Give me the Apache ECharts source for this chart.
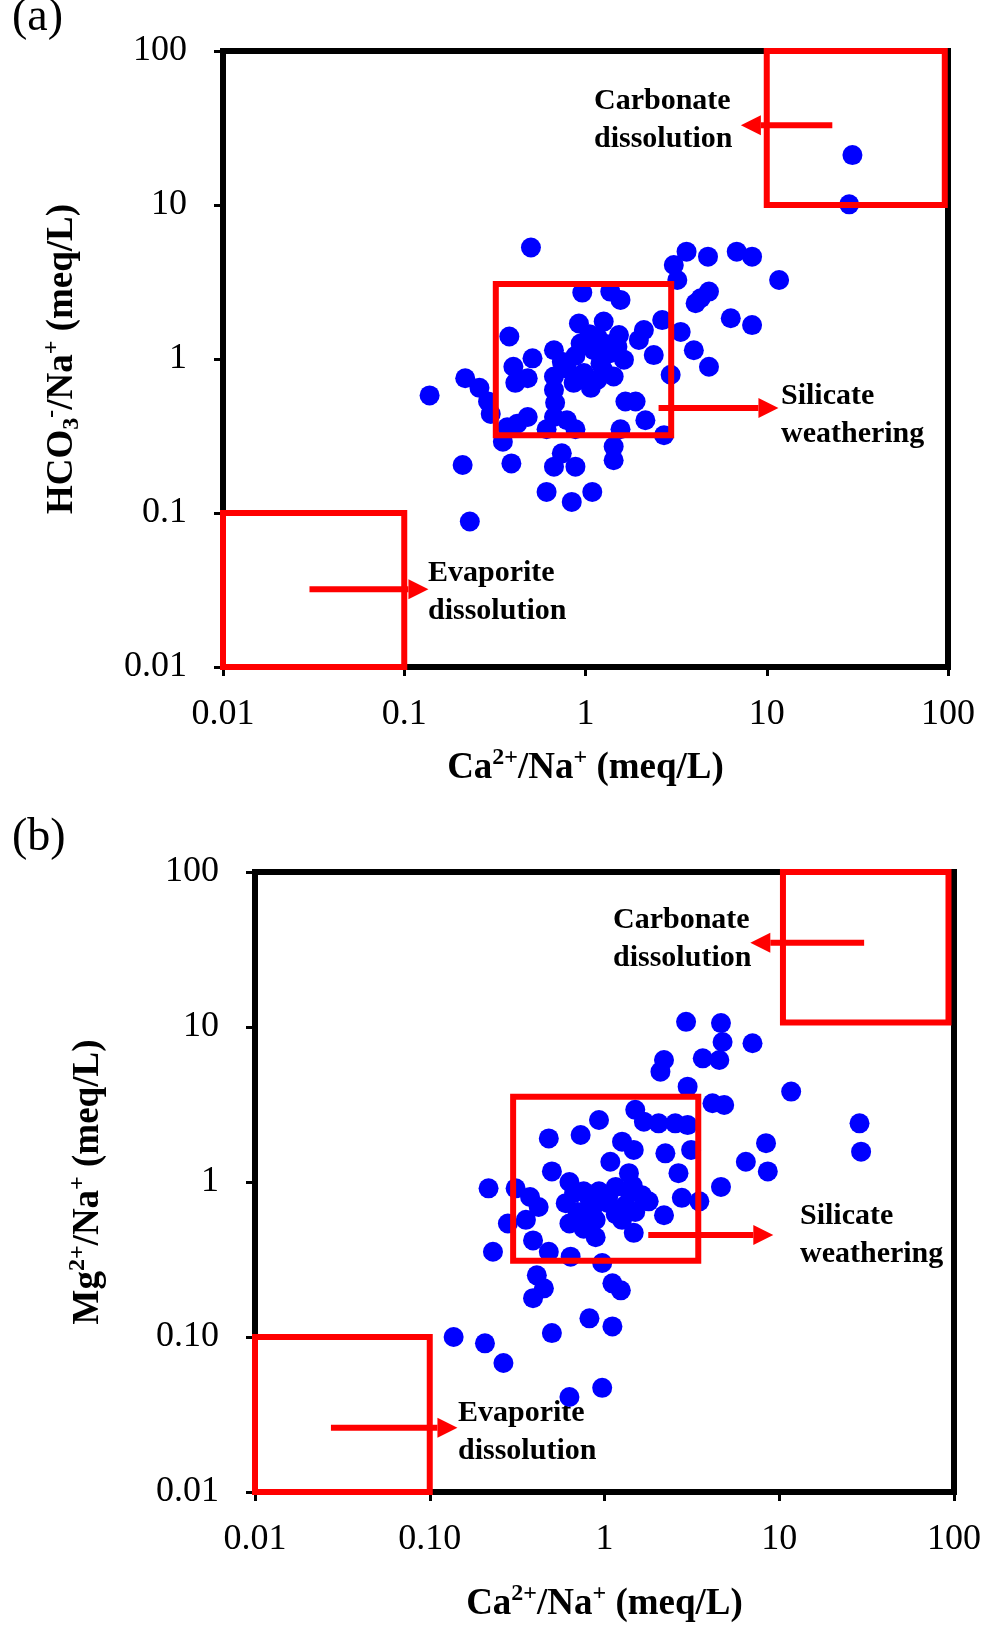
<!DOCTYPE html>
<html>
<head>
<meta charset="utf-8">
<script src="https://cdn.jsdelivr.net/npm/echarts@6/dist/echarts.min.js"></script>
<style>
html, body { margin: 0; padding: 0; background: #fff; }
#chart { width: 984px; height: 1627px; }
</style>
</head>
<body>
<div id="chart"></div>
<script>
// (a) HCO3-/Na+ against Ca2+/Na+
const caNaA = [0.50, 0.96, 1.37, 1.56, 0.92, 1.26, 0.38, 1.53, 0.94, 0.67,
  0.74, 0.51, 0.40, 1.37, 1.63, 1.11, 0.217, 0.26, 0.29, 0.30,
  0.138, 0.41, 0.48, 0.67, 0.79, 0.98, 1.16, 1.43, 0.67, 0.68,
  0.67, 1.07, 1.66, 0.37, 0.48, 0.42, 0.79, 0.88, 0.61, 1.56,
  0.35, 1.43, 0.21, 0.39, 0.74, 0.67, 0.88, 1.43, 0.61, 0.84,
  1.09, 0.23, 1.21, 1.16, 0.86, 1.89, 2.14, 2.71, 29.7, 28.5,
  3.61, 4.74, 6.83, 8.3, 11.7, 3.07, 3.21, 4.32, 4.8, 4.05,
  6.33, 8.3, 2.65, 3.35, 2.10, 2.38, 3.96, 4.8, 2.95, 1.97,
  1.05, 1.30, 0.88, 1.25, 1.50]
const hco3NaA = [5.3, 2.70, 2.74, 2.42, 1.70, 1.75, 1.40, 1.43, 1.26, 1.14,
  0.96, 1.01, 0.89, 1.09, 0.99, 1.14, 0.75, 0.65, 0.53, 0.44,
  0.58, 0.70, 0.75, 0.77, 0.87, 0.81, 0.73, 0.77, 0.63, 0.52,
  0.42, 0.65, 0.53, 0.36, 0.42, 0.38, 0.40, 0.35, 0.35, 0.35,
  0.29, 0.27, 0.205, 0.21, 0.244, 0.20, 0.20, 0.22, 0.137, 0.118,
  0.137, 0.088, 0.94, 1.40, 0.70, 0.53, 0.40, 0.32, 21.1, 10.1,
  4.98, 4.62, 4.98, 4.62, 3.26, 4.08, 3.26, 2.48, 2.74, 2.30,
  1.84, 1.66, 1.79, 1.50, 1.54, 1.06, 1.14, 0.89, 0.79, 1.33,
  1.45, 1.25, 1.05, 0.85, 1.20]

// (b) Mg2+/Na+ against Ca2+/Na+
const caNaB = [2.99, 4.15, 1.50, 1.68, 2.04, 2.54, 2.99, 0.93, 0.73, 0.48,
  1.26, 1.47, 2.23, 3.13, 1.08, 0.50, 1.38, 2.65, 0.217, 0.31,
  0.63, 0.76, 0.93, 1.16, 1.38, 1.64, 1.79, 0.375, 0.42, 0.60,
  0.70, 0.86, 1.05, 1.32, 1.50, 2.77, 3.49, 4.64, 0.28, 0.355,
  2.19, 0.63, 0.76, 0.89, 1.26, 0.39, 0.89, 1.47, 0.23, 0.48,
  0.64, 0.97, 0.41, 0.45, 0.39, 1.11, 1.24, 0.82, 1.11, 0.50,
  0.137, 0.207, 0.264, 0.63, 0.97, 2.93, 4.64, 4.74, 7.03, 2.19,
  2.09, 3.65, 4.54, 11.7, 4.84, 28.8, 29.4, 8.4, 6.44, 8.6,
  0.82, 1.16, 0.67, 1.05, 0.72, 1.45]
const mgNaB = [4.12, 3.22, 2.92, 2.45, 2.39, 2.39, 2.33, 2.51, 2.01, 1.91,
  1.82, 1.61, 1.53, 1.61, 1.35, 1.17, 1.14, 1.14, 0.91, 0.91,
  1.00, 0.87, 0.87, 0.93, 0.87, 0.82, 0.75, 0.80, 0.69, 0.73,
  0.64, 0.69, 0.73, 0.71, 0.64, 0.79, 0.75, 0.93, 0.54, 0.57,
  0.61, 0.54, 0.50, 0.57, 0.57, 0.42, 0.44, 0.47, 0.355, 0.355,
  0.33, 0.30, 0.25, 0.206, 0.178, 0.222, 0.20, 0.132, 0.117, 0.106,
  0.100, 0.091, 0.068, 0.041, 0.047, 10.8, 10.6, 8.0, 7.85, 6.12,
  5.15, 6.28, 6.12, 3.83, 3.14, 2.39, 1.57, 1.78, 1.35, 1.17,
  0.78, 0.62, 0.85, 0.80, 0.60, 0.95]

const tickLabelsA = ['0.01', '0.1', '1', '10', '100']
const tickLabelsB = ['0.01', '0.10', '1', '10', '100']

// process boxes [x0, y0, x1, y1] and arrows [fromX, fromY, toX, toY]
const boxesA = [[0.01, 0.01, 0.1, 0.1], [0.32, 0.32, 2.97, 3.07], [10, 10, 96, 100]]
const boxesB = [[0.01, 0.01, 0.1, 0.1], [0.30, 0.31, 3.44, 3.55], [10.5, 10.7, 93, 100]]
const arrowsA = [[23, 33, 7.2, 33], [2.53, 0.48, 11.6, 0.48], [0.030, 0.032, 0.136, 0.032]]
const arrowsB = [[30.6, 35, 6.83, 35], [1.78, 0.455, 9.25, 0.455], [0.0272, 0.026, 0.144, 0.026]]

const serif = '"Liberation Serif", "Times New Roman", serif'
const RED = '#ff0000'

let chart = echarts.init(document.getElementById('chart'))

function zip(xs, ys) {
  return xs.map((x, i) => [x, ys[i]])
}

function titleStyle() {
  return {
    rich: {
      m: { fontFamily: serif, fontWeight: 'bold', fontSize: 37, color: '#000', lineHeight: 44 },
      sup: { fontFamily: serif, fontWeight: 'bold', fontSize: 24, color: '#000', lineHeight: 24, verticalAlign: 'top' },
      sub: { fontFamily: serif, fontWeight: 'bold', fontSize: 24, color: '#000', lineHeight: 24, verticalAlign: 'bottom' }
    }
  }
}

function logAxis(gridIndex, labels, name, nameGap, isY) {
  return {
    type: 'log',
    logBase: 10,
    min: 0.01,
    max: 100,
    gridIndex: gridIndex,
    name: name,
    nameLocation: 'middle',
    nameGap: nameGap,
    nameRotate: isY ? 90 : 0,
    nameTextStyle: titleStyle(),
    axisLine: { show: true, lineStyle: { color: '#000', width: 6 } },
    axisTick: { show: true, inside: false, length: 9, lineStyle: { color: '#000', width: 3 } },
    minorTick: { show: false },
    splitLine: { show: false },
    axisLabel: {
      margin: isY ? 36 : 30,
      fontFamily: serif,
      fontSize: 36,
      color: '#000',
      showMinLabel: true,
      showMaxLabel: true,
      formatter: v => labels[Math.round(Math.log10(v)) + 2]
    }
  }
}

function renderBox(params, api) {
  const p0 = api.coord([api.value(0), api.value(1)])
  const p1 = api.coord([api.value(2), api.value(3)])
  return {
    type: 'rect',
    shape: {
      x: Math.min(p0[0], p1[0]),
      y: Math.min(p0[1], p1[1]),
      width: Math.abs(p1[0] - p0[0]),
      height: Math.abs(p1[1] - p0[1])
    },
    style: { fill: 'none', stroke: RED, lineWidth: 6 }
  }
}

function renderArrow(params, api) {
  const a = api.coord([api.value(0), api.value(1)])
  const b = api.coord([api.value(2), api.value(3)])
  const dir = b[0] > a[0] ? 1 : -1
  const base = b[0] - dir * 20
  return {
    type: 'group',
    children: [
      { type: 'line', shape: { x1: a[0], y1: a[1], x2: base, y2: b[1] }, style: { stroke: RED, lineWidth: 6 } },
      { type: 'polygon', shape: { points: [[b[0], b[1]], [base, b[1] - 10], [base, b[1] + 10]] }, style: { fill: RED } }
    ]
  }
}

function note(x, y, text) {
  return {
    type: 'text',
    x: x,
    y: y,
    style: { text: text, font: 'bold 30px ' + serif, fill: '#000', lineHeight: 38, verticalAlign: 'top' }
  }
}

chart.setOption({
  animation: false,
  backgroundColor: '#fff',
  grid: [
    { left: 223, top: 51, width: 725, height: 616, show: true, borderColor: '#000', borderWidth: 6, backgroundColor: 'transparent' },
    { left: 255, top: 872, width: 708, height: 620, show: true, borderColor: '#000', borderWidth: 6, backgroundColor: 'transparent' }
  ],
  xAxis: [
    logAxis(0, tickLabelsA, '{m|Ca}{sup|2+}{m|/Na}{sup|+}{m| (meq/L)}', 79, false),
    logAxis(1, tickLabelsB, '{m|Ca}{sup|2+}{m|/Na}{sup|+}{m| (meq/L)}', 90, false)
  ],
  yAxis: [
    logAxis(0, tickLabelsA, '{m|HCO}{sub|3}{sup|-}{m|/Na}{sup|+}{m| (meq/L)}', 139, true),
    logAxis(1, tickLabelsB, '{m|Mg}{sup|2+}{m|/Na}{sup|+}{m| (meq/L)}', 145, true)
  ],
  series: [
    {
      type: 'scatter', xAxisIndex: 0, yAxisIndex: 0,
      data: zip(caNaA, hco3NaA),
      symbolSize: 20,
      itemStyle: { color: '#0000ff', opacity: 1 },
      z: 3
    },
    {
      type: 'scatter', xAxisIndex: 1, yAxisIndex: 1,
      data: zip(caNaB, mgNaB),
      symbolSize: 20,
      itemStyle: { color: '#0000ff', opacity: 1 },
      z: 3
    },
    { type: 'custom', xAxisIndex: 0, yAxisIndex: 0, data: boxesA, renderItem: renderBox, z: 4, silent: true },
    { type: 'custom', xAxisIndex: 1, yAxisIndex: 1, data: boxesB, renderItem: renderBox, z: 4, silent: true },
    { type: 'custom', xAxisIndex: 0, yAxisIndex: 0, data: arrowsA, renderItem: renderArrow, z: 4, silent: true },
    { type: 'custom', xAxisIndex: 1, yAxisIndex: 1, data: arrowsB, renderItem: renderArrow, z: 4, silent: true }
  ],
  graphic: [
    { type: 'text', x: 12, y: 18, style: { text: '(a)', font: '46px ' + serif, fill: '#000', verticalAlign: 'middle' } },
    { type: 'text', x: 12, y: 838, style: { text: '(b)', font: '46px ' + serif, fill: '#000', verticalAlign: 'middle' } },
    note(594, 82, 'Carbonate\ndissolution'),
    note(781, 377, 'Silicate\nweathering'),
    note(428, 554, 'Evaporite\ndissolution'),
    note(613, 901, 'Carbonate\ndissolution'),
    note(800, 1197, 'Silicate\nweathering'),
    note(458, 1394, 'Evaporite\ndissolution')
  ]
})
</script>
</body>
</html>
